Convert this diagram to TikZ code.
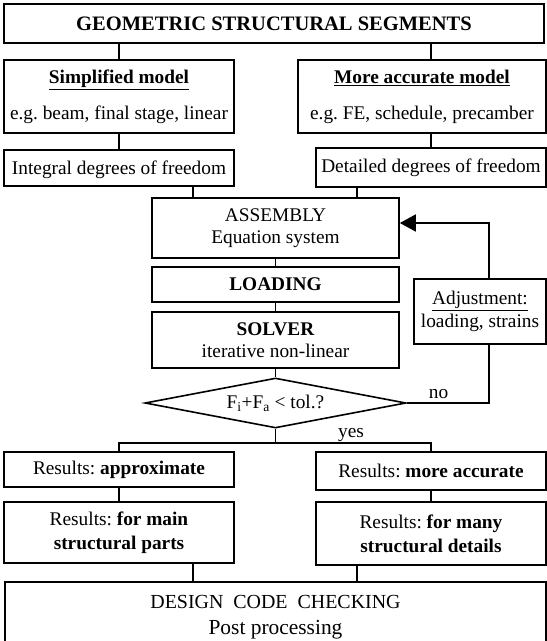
\documentclass[tikz,border=0pt]{standalone}
\usepackage{fontspec}
\setmainfont{Liberation Serif}
\usetikzlibrary{shapes.geometric,arrows.meta}
\frenchspacing

\tikzset{
  blk/.style={draw, line width=1.6bp, align=center, inner sep=1bp,
    font=\fontsize{19.4}{22}\selectfont},
  cn/.style={line width=1.6bp},
}

\begin{document}
\begin{tikzpicture}[x=1bp,y=-1bp]
  \clip (0,0) rectangle (547,641);
  % model side
  \node[blk, minimum width=540bp, minimum height=39bp, font=\fontsize{20.6}{24}\selectfont\bfseries] (geo) at (274,23.5) {GEOMETRIC STRUCTURAL SEGMENTS};
  \node[blk, minimum width=230bp, minimum height=73bp] (simp) at (119,96.5) {\underline{\textbf{Simplified model}}\\[14bp]e.g. beam, final stage, linear};
  \node[blk, minimum width=248bp, minimum height=73bp] (acc) at (422,96.5) {\underline{\textbf{More accurate model}}\\[14bp]e.g. FE, schedule, precamber};
  \node[blk, minimum width=230bp, minimum height=36bp, text depth=0bp] (dof1) at (119,168) {Integral degrees of freedom};
  \node[blk, minimum width=230bp, minimum height=39bp] (dof2) at (431,167.5) {Detailed degrees of freedom};
  \coordinate (colL) at (193,0);
  \coordinate (colR) at (357,0);
  % iteration
  \node[blk, minimum width=247bp, minimum height=60bp] (asm) at (275.5,228) {ASSEMBLY\\Equation system};
  \node[blk, minimum width=247bp, minimum height=35bp] (load) at (275.5,284.5) {\textbf{LOADING}};
  \node[blk, minimum width=247bp, minimum height=56bp] (solv) at (275.5,340) {\textbf{SOLVER}\\iterative non-linear};
  \node[draw, line width=1.6bp, diamond, aspect=5.2, inner sep=0pt, minimum width=261bp, minimum height=50bp, font=\fontsize{19.4}{22}\selectfont] (chk) at (275.5,403) {F\textsubscript{i}+F\textsubscript{a} < tol.?};
  \node[blk, minimum width=132bp, minimum height=65bp, font=\fontsize{19.4}{23}\selectfont] (adj) at (480,311.5) {\underline{Adjustment:}\\loading, strains};
  \coordinate (loop) at (489,223);
  \coordinate (yesjoin) at (275.5,443);
  \node[anchor=base, font=\fontsize{19.4}{22}\selectfont] (no) at (438.5,398) {no};
  \node[anchor=base, font=\fontsize{19.4}{22}\selectfont] (yes) at (351,437) {yes};
  % results
  \node[blk, minimum width=230bp, minimum height=35bp] (res1) at (119,469.5) {Results: \textbf{approximate}};
  \node[blk, minimum width=230bp, minimum height=38bp] (res2) at (431,471) {Results: \textbf{more accurate}};
  \node[blk, minimum width=230bp, minimum height=61bp, font=\fontsize{19.4}{24}\selectfont] (main1) at (119,532.5) {Results: \textbf{for main}\\\textbf{structural parts}};
  \node[blk, minimum width=230bp, minimum height=63bp, font=\fontsize{19.4}{24}\selectfont] (main2) at (431,533.5) {Results: \textbf{for many}\\\textbf{structural details}};
  \node[blk, minimum width=541bp, minimum height=70bp, font=\fontsize{20}{26}\selectfont] (dcc) at (275.5,617) {DESIGN\hspace{0.5em}CODE\hspace{0.5em}CHECKING\\{\fontsize{21.5}{26}\selectfont Post processing}};

  \draw[cn] (geo.south -| simp) -- (simp.north);
  \draw[cn] (geo.south -| dof2) -- (dof2 |- acc.north);
  \draw[cn] (simp.south) -- (dof1.north);
  \draw[cn] (acc.south -| dof2) -- (dof2.north);
  \draw[cn] (dof1.south -| colL) -- (asm.north -| colL);
  \draw[cn] (dof2.south -| colR) -- (asm.north -| colR);
  \draw[cn] (asm) -- (load);
  \draw[cn] (load) -- (solv);
  \draw[cn] (solv) -- (chk);
  \draw[cn] (chk.east) -| (adj.south -| loop);
  \draw[cn, -{Triangle[length=16bp,width=17bp]}] (adj.north -| loop) -- (loop) -- (loop -| asm.east);
  \draw[cn] (chk.south) -- (yesjoin);
  \draw[cn] (res1.north) |- (yesjoin) -| (res2.north);
  \draw[cn] (res1) -- (main1);
  \draw[cn] (res2) -- (main2);
  \draw[cn] (main1.south -| colL) -- (dcc.north -| colL);
  \draw[cn] (main2.south -| colR) -- (dcc.north -| colR);
\end{tikzpicture}
\end{document}
